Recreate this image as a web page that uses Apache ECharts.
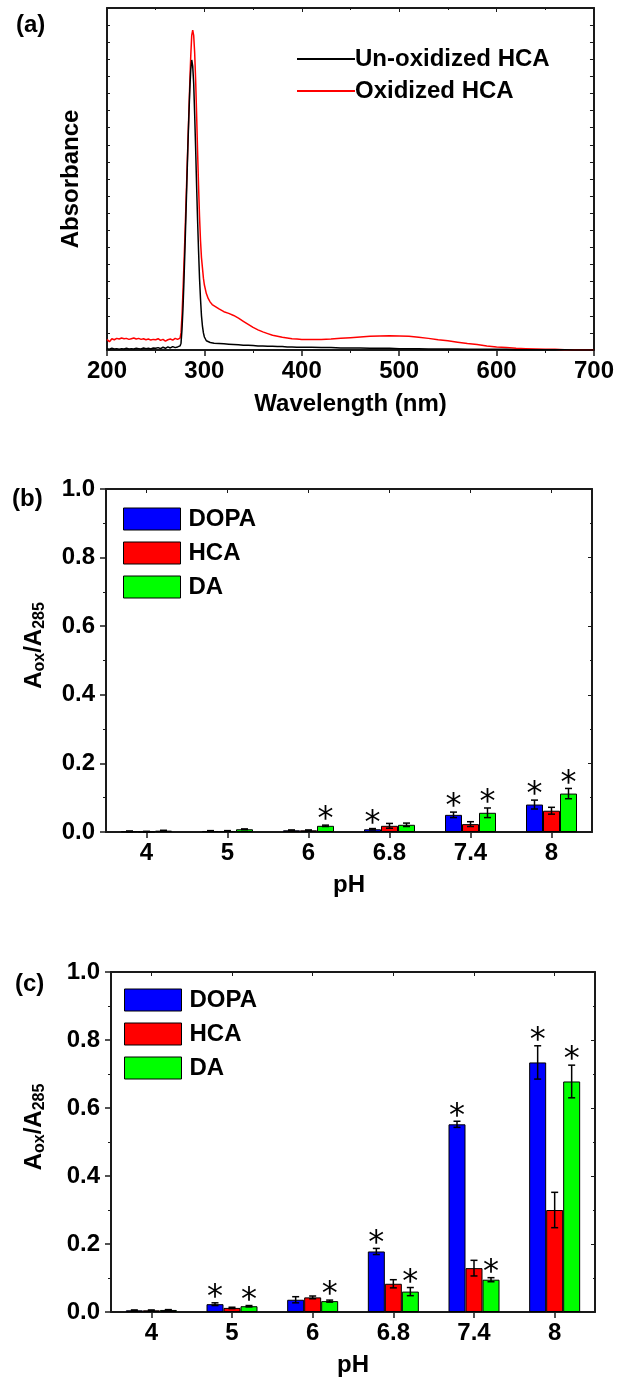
<!DOCTYPE html>
<html><head><meta charset="utf-8">
<script src="https://cdn.jsdelivr.net/npm/echarts@6/dist/echarts.min.js"></script>
<style>html,body{margin:0;padding:0;background:#fff}#c{width:617px;height:1381px}</style>
</head><body><div id="c"></div>
<script>
// ---------- Panel (a) data ----------
const wavelength = [200,202.5,205,207.5,210,212.5,215,217.5,220,222.5,225,227.5,230,232.5,235,237.5,240,242.5,245,247.5,250,252.5,255,257.5,260,262.5,265,267.5,270,272.5,275,
 276,277,278,279,280,281,282,283,284,285,286,287,288,289,290,291,292,293,294,295,296,297,298,299,300,
 302,304,306,308,310,
 315,320,325,330,335,340,345,350,355,360,365,370,375,380,385,390,395,400,
 410,420,430,440,450,460,470,480,490,500,510,520,530,540,550,560,570,580,590,600,610,620,630,640,650,660,670,680,690,700];
const unoxidizedHCA = [0.004,0.002,0.005,0.003,0.004,0.002,0.004,0.003,0.005,0.003,0.004,0.003,0.005,0.004,0.003,0.006,0.004,0.005,0.003,0.006,0.005,0.007,0.004,0.008,0.005,0.009,0.006,0.010,0.007,0.009,0.012,
 0.02,0.06,0.12,0.20,0.29,0.39,0.49,0.59,0.68,0.76,0.82,0.848,0.83,0.78,0.69,0.59,0.48,0.38,0.29,0.21,0.15,0.10,0.07,0.05,0.038,
 0.027,0.024,0.022,0.021,0.020,
 0.019,0.018,0.017,0.016,0.015,0.014,0.014,0.013,0.012,0.012,0.011,0.011,0.010,0.010,0.009,0.009,0.008,0.008,
 0.008,0.007,0.007,0.006,0.006,0.006,0.005,0.005,0.005,0.004,0.004,0.004,0.003,0.003,0.003,0.003,0.002,0.002,0.002,0.002,0.002,0.001,0.001,0.001,0.001,0.001,0.001,0,0,0];
const oxidizedHCA = [0.031,0.024,0.033,0.030,0.034,0.032,0.035,0.033,0.034,0.031,0.033,0.035,0.032,0.034,0.031,0.033,0.030,0.032,0.029,0.031,0.030,0.033,0.028,0.031,0.026,0.030,0.032,0.029,0.034,0.031,0.035,
 0.05,0.10,0.17,0.25,0.33,0.42,0.51,0.60,0.69,0.78,0.86,0.92,0.935,0.92,0.87,0.79,0.69,0.58,0.48,0.39,0.32,0.27,0.24,0.21,0.19,
 0.165,0.150,0.140,0.133,0.128,
 0.120,0.112,0.107,0.101,0.093,0.084,0.075,0.066,0.059,0.053,0.048,0.043,0.040,0.037,0.035,0.033,0.032,0.031,
 0.031,0.031,0.032,0.034,0.036,0.038,0.040,0.041,0.042,0.041,0.040,0.037,0.034,0.030,0.027,0.023,0.019,0.016,0.012,0.009,0.007,0.005,0.004,0.003,0.002,0.002,0.001,0.001,0.001,0.001];
const lineNames = ['Un-oxidized HCA','Oxidized HCA'];

// ---------- Panels (b), (c) data ----------
const phCategories = ['4','5','6','6.8','7.4','8'];
const barNames = ['DOPA','HCA','DA'];

const bDOPA = [0.002,0.003,0.005,0.008,0.050,0.080];
const bDOPAerr = [0.001,0.001,0.001,0.002,0.008,0.013];
const bDOPAsig = [0,0,0,1,1,1];
const bHCA = [0.001,0.003,0.005,0.018,0.023,0.062];
const bHCAerr = [0.001,0.001,0.001,0.007,0.007,0.010];
const bHCAsig = [0,0,0,0,0,0];
const bDA = [0.004,0.008,0.018,0.021,0.056,0.112];
const bDAerr = [0.001,0.001,0.002,0.005,0.014,0.015];
const bDAsig = [0,0,1,0,1,1];

const cDOPA = [0.005,0.023,0.036,0.178,0.552,0.734];
const cDOPAerr = [0.001,0.004,0.009,0.009,0.009,0.049];
const cDOPAsig = [0,1,0,1,1,1];
const cHCA = [0.005,0.012,0.043,0.083,0.129,0.300];
const cHCAerr = [0.001,0.002,0.004,0.012,0.023,0.052];
const cHCAsig = [0,0,0,0,0,0];
const cDA = [0.006,0.017,0.032,0.060,0.095,0.678];
const cDAerr = [0.001,0.002,0.003,0.012,0.006,0.048];
const cDAsig = [0,1,1,1,1,1];

// ---------- styling ----------
const FONT = '"Liberation Sans", Arial, sans-serif';
const AX = '#1a1a1a';
const BAR_W = 17;
const barColors = ['#0000ff','#ff0000','#00ff00'];
const lbl = {fontFamily: FONT, fontWeight: 'bold', fontSize: 24, color: '#000'};

const chart = echarts.init(document.getElementById('c'), null, {renderer: 'canvas'});

function mirrorX(grid, type, extra) {
  return Object.assign({gridIndex: grid, type: type, position: 'top',
    axisLine: {show: true, onZero: false, lineStyle: {color: AX, width: 2}},
    axisTick: {show: true, inside: true, length: 4, lineStyle: {color: AX, width: 1}},
    axisLabel: {show: false}, splitLine: {show: false}}, extra);
}
function mirrorY(grid, extra) {
  return Object.assign({gridIndex: grid, type: 'value', position: 'right',
    axisLine: {show: true, onZero: false, lineStyle: {color: AX, width: 2}},
    axisTick: {show: true, inside: true, length: 4, lineStyle: {color: AX, width: 1}},
    minorTick: {show: true, splitNumber: 2, length: 2, lineStyle: {color: AX}},
    axisLabel: {show: false}, splitLine: {show: false}}, extra);
}
function catX(grid, extra) {
  return Object.assign({gridIndex: grid, type: 'category', data: phCategories, position: 'bottom',
    axisLine: {show: true, onZero: false, lineStyle: {color: AX, width: 2}},
    axisTick: {show: true, alignWithLabel: true, length: 6, lineStyle: {color: AX, width: 1.5}},
    axisLabel: Object.assign({margin: 9}, lbl),
    name: 'pH', nameLocation: 'middle', nameGap: 41, nameTextStyle: lbl,
    splitLine: {show: false}}, extra);
}
function ratioY(grid, gap) {
  return {gridIndex: grid, type: 'value', min: 0, max: 1, interval: 0.2, position: 'left',
    axisLine: {show: true, onZero: false, lineStyle: {color: AX, width: 2}},
    axisTick: {show: true, length: 6, lineStyle: {color: AX, width: 1.5}},
    minorTick: {show: true, splitNumber: 2, length: 3, lineStyle: {color: AX, width: 1}},
    axisLabel: Object.assign({margin: 11, formatter: v => v.toFixed(1)}, lbl),
    splitLine: {show: false},
    name: '{a|A}{s|ox}{a|/A}{s|285}', nameLocation: 'middle', nameGap: gap,
    nameTextStyle: {padding: [0, 0, 0, 30], rich: {
      a: {fontFamily: FONT, fontWeight: 'bold', fontSize: 24, color: '#000', lineHeight: 28, verticalAlign: 'middle'},
      s: {fontFamily: FONT, fontWeight: 'bold', fontSize: 16, color: '#000', lineHeight: 12, verticalAlign: 'bottom'}
    }}};
}

function errData(vals, errs, sigs) {
  return vals.map((v, i) => [i, v - errs[i], v + errs[i], sigs[i]]);
}
function errSeries(axis, idx, vals, errs, sigs) {
  return {
    type: 'custom', xAxisIndex: axis, yAxisIndex: axis, z: 10, clip: false, silent: true,
    data: errData(vals, errs, sigs),
    renderItem: function (params, api) {
      const i = api.value(0);
      const lo = api.coord([i, api.value(1)]);
      const hi = api.coord([i, api.value(2)]);
      const x = lo[0] + (idx - 1) * BAR_W;
      const st = {stroke: '#000', lineWidth: 1.5};
      const ch = [
        {type: 'line', shape: {x1: x, y1: lo[1], x2: x, y2: hi[1]}, style: st},
        {type: 'line', shape: {x1: x - 3.5, y1: lo[1], x2: x + 3.5, y2: lo[1]}, style: st},
        {type: 'line', shape: {x1: x - 3.5, y1: hi[1], x2: x + 3.5, y2: hi[1]}, style: st}
      ];
      if (api.value(3)) {
        ch.push({type: 'text', style: {text: '*', x: x, y: hi[1] - 5, fill: '#000',
          font: '32px "DejaVu Sans", sans-serif', align: 'center', verticalAlign: 'middle'}});
      }
      return {type: 'group', children: ch};
    }
  };
}
function barSeries(axis, idx, vals) {
  return {type: 'bar', name: barNames[idx], xAxisIndex: axis, yAxisIndex: axis,
    data: vals, barWidth: BAR_W, barGap: '0%',
    itemStyle: {color: barColors[idx], borderColor: '#000', borderWidth: 1}};
}

const option = {
  animation: false,
  backgroundColor: '#fff',
  graphic: [
    {type: 'text', left: 16, top: 13, style: {text: '(a)', font: 'bold 24px ' + FONT, fill: '#000'}},
    {type: 'text', left: 12, top: 487, style: {text: '(b)', font: 'bold 24px ' + FONT, fill: '#000'}},
    {type: 'text', left: 15, top: 972, style: {text: '(c)', font: 'bold 24px ' + FONT, fill: '#000'}}
  ],
  grid: [
    {left: 107, top: 8, width: 487, height: 342},
    {left: 106, top: 489, width: 486, height: 343},
    {left: 111, top: 972, width: 484, height: 340}
  ],
  legend: [
    {data: lineNames, left: 292, top: 42, orient: 'vertical', icon: 'rect', itemWidth: 58, itemHeight: 2,
     itemGap: 8, textStyle: Object.assign({padding: [0, 0, 0, -5], lineHeight: 24}, lbl)},
    {data: barNames, left: 118, top: 502, orient: 'vertical', icon: 'rect', itemWidth: 57, itemHeight: 22,
     itemGap: 10, itemStyle: {borderColor: '#000', borderWidth: 1},
     textStyle: Object.assign({padding: [0, 0, 0, 3]}, lbl)},
    {data: barNames, left: 119, top: 983, orient: 'vertical', icon: 'rect', itemWidth: 57, itemHeight: 22,
     itemGap: 10, itemStyle: {borderColor: '#000', borderWidth: 1},
     textStyle: Object.assign({padding: [0, 0, 0, 3]}, lbl)}
  ],
  xAxis: [
    {gridIndex: 0, type: 'value', min: 200, max: 700, interval: 100, position: 'bottom',
     axisLine: {show: true, onZero: false, lineStyle: {color: AX, width: 2}},
     axisTick: {show: true, length: 6, lineStyle: {color: AX, width: 1.5}},
     minorTick: {show: true, splitNumber: 2, length: 3, lineStyle: {color: AX, width: 1}},
     axisLabel: Object.assign({margin: 9}, lbl), splitLine: {show: false},
     name: 'Wavelength (nm)', nameLocation: 'middle', nameGap: 42, nameTextStyle: lbl},
    mirrorX(0, 'value', {min: 200, max: 700, interval: 100, minorTick: {show: true, splitNumber: 2, length: 2, lineStyle: {color: AX}}}),
    catX(1),
    mirrorX(1, 'category', {data: phCategories, axisTick: {show: true, inside: true, alignWithLabel: true, length: 4, lineStyle: {color: AX}}}),
    catX(2),
    mirrorX(2, 'category', {data: phCategories, axisTick: {show: true, inside: true, alignWithLabel: true, length: 4, lineStyle: {color: AX}}})
  ],
  yAxis: [
    {gridIndex: 0, type: 'value', min: 0, max: 1, interval: 0.05, position: 'left',
     axisLine: {show: true, onZero: false, lineStyle: {color: AX, width: 2}},
     axisTick: {show: true, inside: true, length: 3, lineStyle: {color: AX, width: 1}},
     axisLabel: {show: false}, splitLine: {show: false},
     name: 'Absorbance', nameLocation: 'middle', nameGap: 24, nameTextStyle: lbl},
    mirrorY(0, {min: 0, max: 1, interval: 0.05, minorTick: {show: false}}),
    ratioY(1, 58),
    mirrorY(1, {min: 0, max: 1, interval: 0.2}),
    ratioY(2, 63),
    mirrorY(2, {min: 0, max: 1, interval: 0.2})
  ],
  series: [
    {type: 'line', name: lineNames[0], xAxisIndex: 0, yAxisIndex: 0, showSymbol: false, symbol: 'none',
     data: wavelength.map((w, i) => [w, unoxidizedHCA[i]]), color: '#000',
     lineStyle: {color: '#000', width: 1.5}, z: 3},
    {type: 'line', name: lineNames[1], xAxisIndex: 0, yAxisIndex: 0, showSymbol: false, symbol: 'none',
     data: wavelength.map((w, i) => [w, oxidizedHCA[i]]), color: '#ff0000',
     lineStyle: {color: '#ff0000', width: 1.5}, z: 2},
    barSeries(2, 0, bDOPA), barSeries(2, 1, bHCA), barSeries(2, 2, bDA),
    errSeries(2, 0, bDOPA, bDOPAerr, bDOPAsig),
    errSeries(2, 1, bHCA, bHCAerr, bHCAsig),
    errSeries(2, 2, bDA, bDAerr, bDAsig),
    barSeries(4, 0, cDOPA), barSeries(4, 1, cHCA), barSeries(4, 2, cDA),
    errSeries(4, 0, cDOPA, cDOPAerr, cDOPAsig),
    errSeries(4, 1, cHCA, cHCAerr, cHCAsig),
    errSeries(4, 2, cDA, cDAerr, cDAsig)
  ]
};
chart.setOption(option);
</script></body></html>
